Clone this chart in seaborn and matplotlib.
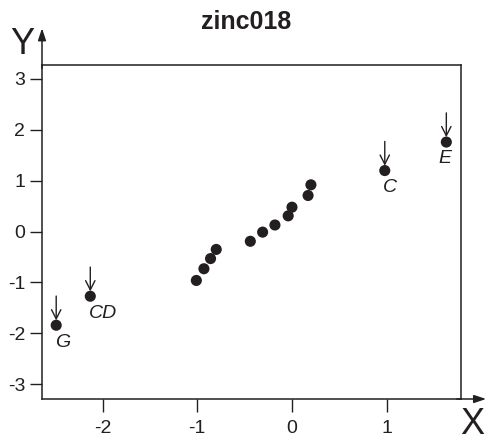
import matplotlib
matplotlib.use("Agg")
import matplotlib.pyplot as plt
import seaborn as sns
import pandas as pd

sns.set_theme(style="white")
plt.rcParams['font.family'] = ['Liberation Sans', 'DejaVu Sans']

# data
x_vals = [-2.49, -2.13, -1.01, -0.93, -0.86, -0.80, -0.44, -0.31, -0.18, -0.04, 0.00, 0.17, 0.20, 0.98, 1.63]
y_vals = [-1.84, -1.27, -0.96, -0.73, -0.53, -0.35, -0.19, -0.01, 0.13, 0.31, 0.48, 0.71, 0.92, 1.20, 1.76]
point_labels = ["G", "CD", "", "", "", "", "", "", "", "", "", "", "", "C", "E"]
x_ticks = [-2, -1, 0, 1]
y_ticks = [-3, -2, -1, 0, 1, 2, 3]
title = "zinc018"

df = pd.DataFrame({"x": x_vals, "y": y_vals, "label": point_labels})

fig = plt.figure(figsize=(4.9, 4.44), dpi=100)
ax = fig.add_axes([42/490, 1-399/444, (461-42)/490, (399-65)/444])

sns.scatterplot(data=df, x="x", y="y", ax=ax, color="#231f20", s=64,
                edgecolor="none", legend=False, zorder=3)

ax.set_xlim(-2.64, 1.785)
ax.set_ylim(-3.29, 3.275)
ax.set_xticks(x_ticks)
ax.set_yticks(y_ticks)
ax.set_xticklabels([str(t) for t in x_ticks])
ax.set_yticklabels([str(t) for t in y_ticks])
ax.set_xlabel("")
ax.set_ylabel("")

for s in ax.spines.values():
    s.set_color("#231f20")
    s.set_linewidth(1.1)
ax.tick_params(axis="both", direction="out", length=9, width=1.0, colors="#231f20",
               labelsize=14, labelcolor="#231f20", bottom=True, left=True)
ax.tick_params(axis="x", pad=6)
ax.tick_params(axis="y", pad=3)

# axis arrows
ax.annotate("", xy=(0, 1.11), xytext=(0, 0.99), xycoords="axes fraction",
            textcoords="axes fraction",
            arrowprops=dict(arrowstyle="-|>,head_length=0.6,head_width=0.2",
                            color="#231f20", lw=1.1, shrinkA=0, shrinkB=0))
ax.annotate("", xy=(1.06, 0), xytext=(0.99, 0), xycoords="axes fraction",
            textcoords="axes fraction",
            arrowprops=dict(arrowstyle="-|>,head_length=0.6,head_width=0.2",
                            color="#231f20", lw=1.1, shrinkA=0, shrinkB=0))

# labeled point arrows and text
label_dx = {"G": 0, "CD": 0, "C": 0, "E": -5}
for _, r in df.iterrows():
    if not r["label"]:
        continue
    ax.annotate("", xy=(r["x"], r["y"]), xytext=(0, 21), textcoords="offset points",
                arrowprops=dict(arrowstyle="->,head_length=0.55,head_width=0.28",
                                color="#231f20", lw=1.0, shrinkA=0, shrinkB=3.5))
    ax.annotate(r["label"], xy=(r["x"], r["y"]),
                xytext=(label_dx[r["label"]] - 1, -6), textcoords="offset points",
                ha="left", va="top", fontsize=14, style="italic", color="#231f20")

fig.text(246/490, 1-22/444, title, ha="center", va="center", fontsize=18,
         fontweight="bold", color="#231f20")
fig.text(22/490, 1-44/444, "Y", ha="center", va="center", fontsize=26, color="#231f20")
fig.text(472/490, 1-424/444, "X", ha="center", va="center", fontsize=26, color="#231f20")

fig.savefig("out.png", dpi=100)
